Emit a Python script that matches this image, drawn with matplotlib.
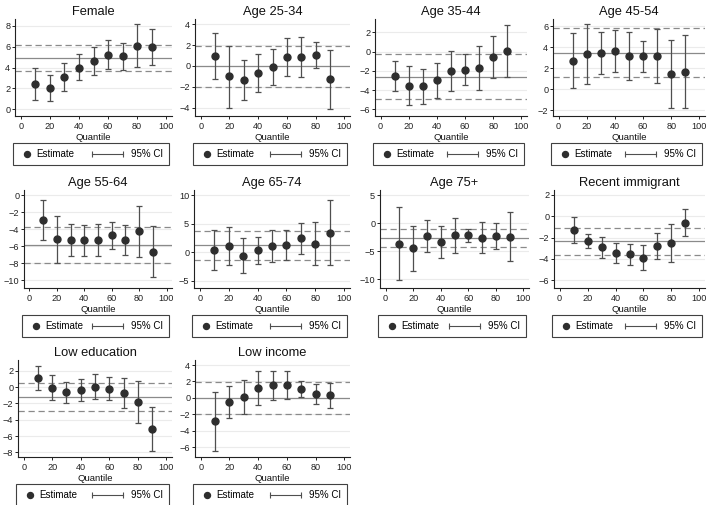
import matplotlib
matplotlib.use("Agg")
import matplotlib.pyplot as plt
from matplotlib.lines import Line2D
from matplotlib.legend_handler import HandlerBase

plt.rcParams['font.family'] = ['Liberation Sans', 'DejaVu Sans']

# ---------------- data ----------------
quantiles = [10, 20, 30, 40, 50, 60, 70, 80, 90]
xticks = [0, 20, 40, 60, 80, 100]

titles = ["Female", "Age 25-34", "Age 35-44", "Age 45-54",
          "Age 55-64", "Age 65-74", "Age 75+", "Recent immigrant",
          "Low education", "Low income"]

female_est = [2.4, 2.0, 3.05, 4.0, 4.65, 5.25, 5.1, 6.1, 5.95]
female_lo = [0.9, 0.8, 1.7, 2.8, 3.3, 3.85, 3.8, 4.05, 4.25]
female_hi = [3.95, 3.3, 4.4, 5.3, 6.0, 6.65, 6.4, 8.2, 7.7]

age2534_est = [0.95, -1.0, -1.35, -0.7, -0.1, 0.9, 0.85, 1.05, -1.3]
age2534_lo = [-1.25, -4.0, -3.3, -2.5, -1.8, -0.95, -1.05, -0.2, -4.1]
age2534_hi = [3.15, 1.95, 0.6, 1.1, 1.6, 2.7, 2.75, 2.3, 1.5]

age3544_est = [-2.55, -3.55, -3.6, -2.95, -2.0, -1.9, -1.7, -0.6, 0.1]
age3544_lo = [-4.1, -5.6, -5.45, -4.85, -4.1, -3.5, -4.05, -2.8, -2.6]
age3544_hi = [-1.0, -1.55, -1.8, -1.15, 0.05, -0.3, 0.6, 1.6, 2.8]

age4554_est = [2.7, 3.3, 3.45, 3.6, 3.15, 3.1, 3.1, 1.4, 1.65]
age4554_lo = [0.1, 0.45, 1.45, 1.6, 0.85, 1.6, 0.55, -1.85, -1.85]
age4554_hi = [5.35, 6.15, 5.45, 5.6, 5.4, 4.6, 5.7, 4.7, 5.1]

age5564_est = [-2.95, -5.2, -5.3, -5.35, -5.25, -4.75, -5.25, -4.25, -6.65]
age5564_lo = [-5.3, -7.95, -7.2, -7.2, -7.15, -6.35, -7.0, -7.25, -9.6]
age5564_hi = [-0.55, -2.5, -3.4, -3.5, -3.4, -3.15, -3.5, -1.25, -3.7]

age6574_est = [0.35, 1.1, -0.65, 0.35, 1.0, 1.2, 2.4, 1.5, 3.4]
age6574_lo = [-3.1, -2.2, -3.6, -2.0, -1.8, -1.4, -0.35, -2.2, -2.3]
age6574_hi = [3.8, 4.4, 2.4, 2.7, 3.8, 3.8, 5.15, 5.2, 9.1]

age75_est = [-3.7, -4.5, -2.3, -3.4, -2.2, -2.2, -2.6, -2.3, -2.4]
age75_lo = [-10.2, -8.5, -5.2, -6.2, -5.3, -3.3, -5.4, -4.6, -6.8]
age75_hi = [2.85, -0.6, 0.6, -0.6, 0.9, -1.1, 0.2, 0.1, 1.9]

immig_est = [-1.25, -2.3, -2.9, -3.45, -3.55, -3.9, -2.8, -2.55, -0.6]
immig_lo = [-2.5, -2.95, -3.9, -4.4, -4.55, -5.1, -4.05, -4.35, -1.85]
immig_hi = [-0.05, -1.65, -1.95, -2.55, -2.6, -2.7, -1.6, -0.75, 0.65]

lowedu_est = [1.1, -0.1, -0.65, -0.4, 0.05, -0.25, -0.75, -1.85, -5.15]
lowedu_lo = [-0.35, -1.65, -1.9, -1.75, -1.5, -1.65, -2.55, -4.4, -7.85]
lowedu_hi = [2.6, 1.5, 0.6, 0.95, 1.6, 1.2, 1.05, 0.7, -2.45]

lowinc_est = [-2.85, -0.5, 0.1, 1.2, 1.55, 1.55, 1.1, 0.45, 0.3]
lowinc_lo = [-6.45, -2.4, -2.0, -0.85, -0.2, -0.15, 0.15, -0.75, -1.25]
lowinc_hi = [0.75, 1.4, 2.2, 3.25, 3.3, 3.25, 2.1, 1.7, 1.85]

# OLS estimate and its 95% CI (horizontal reference lines)
ols_coef = [4.9, 0.0, -2.6, 3.45, -5.9, 1.2, -2.6, -2.35, -1.25, 0.0]
ols_lo = [3.65, -2.05, -4.9, 1.1, -8.0, -1.3, -4.2, -3.6, -2.95, -1.9]
ols_hi = [6.15, 1.9, -0.3, 5.85, -3.75, 3.7, -1.0, -1.15, 0.45, 1.9]

yticks = [[0, 2, 4, 6, 8], [-4, -2, 0, 2, 4], [-6, -4, -2, 0, 2],
          [-2, 0, 2, 4, 6], [-10, -8, -6, -4, -2, 0], [-5, 0, 5, 10],
          [-10, -5, 0, 5], [-6, -4, -2, 0, 2], [-8, -6, -4, -2, 0, 2],
          [-6, -4, -2, 0, 2, 4]]

ylims = [(-0.67, 8.67), (-4.8, 4.5), (-6.7, 3.38), (-2.57, 6.67),
         (-10.94, 0.59), (-6.28, 10.88), (-11.55, 5.89), (-6.75, 2.47),
         (-8.57, 3.31), (-7.18, 4.61)]

series = [(female_est, female_lo, female_hi),
          (age2534_est, age2534_lo, age2534_hi),
          (age3544_est, age3544_lo, age3544_hi),
          (age4554_est, age4554_lo, age4554_hi),
          (age5564_est, age5564_lo, age5564_hi),
          (age6574_est, age6574_lo, age6574_hi),
          (age75_est, age75_lo, age75_hi),
          (immig_est, immig_lo, immig_hi),
          (lowedu_est, lowedu_lo, lowedu_hi),
          (lowinc_est, lowinc_lo, lowinc_hi)]

# ---------------- layout (pixels) ----------------
W, H = 709, 505
lefts = [15, 195, 375, 553, 24, 194, 380, 554, 18, 195]
rights = [172, 350, 527, 705, 172, 350, 529, 705, 172, 350]
row_top = [19, 190, 360]
row_bot = [116, 288, 457]

MARK = "#2e2e2e"
BAR = "#4f4f4f"
REF = "#8a8a8a"


class DotHandler(HandlerBase):
    def create_artists(self, legend, orig_handle, xdescent, ydescent,
                       width, height, fontsize, trans):
        l = Line2D([-xdescent + width * 0.55], [-ydescent + height / 2],
                   marker='o', ls='none', color=MARK, markersize=4.3)
        l.set_transform(trans)
        return [l]


class CIHandler(HandlerBase):
    def create_artists(self, legend, orig_handle, xdescent, ydescent,
                       width, height, fontsize, trans):
        x1 = -xdescent + width - 3.5
        x0 = x1 - 22
        y = -ydescent + height / 2
        l = Line2D([x0, x1], [y, y], color=BAR, lw=0.8)
        c = Line2D([x0, x1], [y, y], ls='none', marker='|', color=BAR,
                   markersize=5, markeredgewidth=0.8)
        l.set_transform(trans)
        c.set_transform(trans)
        return [l, c]


fig = plt.figure(figsize=(W / 100, H / 100), dpi=100)
fig.patch.set_facecolor('white')

for i, title in enumerate(titles):
    r = i // 4
    l, rt = lefts[i], rights[i]
    t, b = row_top[r], row_bot[r]
    ax = fig.add_axes([l / W, 1 - b / H, (rt - l) / W, (b - t) / H])
    est, lo, hi = series[i]
    yerr = [[e - a for e, a in zip(est, lo)], [h - e for e, h in zip(est, hi)]]

    for yt in yticks[i]:
        ax.axhline(yt, color="#ebebeb", lw=0.8, zorder=0)
    ax.axhline(ols_coef[i], color=REF, lw=0.9, zorder=1)
    ax.axhline(ols_lo[i], color=REF, lw=0.9, ls=(0, (5, 3)), zorder=1)
    ax.axhline(ols_hi[i], color=REF, lw=0.9, ls=(0, (5, 3)), zorder=1)

    ax.errorbar(quantiles, est, yerr=yerr, fmt='none', ecolor=BAR,
                elinewidth=0.9, capsize=2.4, capthick=0.9, zorder=2)
    ax.plot(quantiles, est, 'o', color=MARK, markersize=5.0, zorder=3)

    ax.set_xlim(-4, 104)
    ax.set_ylim(*ylims[i])
    ax.set_xticks(xticks)
    ax.set_yticks(yticks[i])
    ax.tick_params(labelsize=6.6, length=2.2, width=0.7, pad=1.2,
                   colors="#222222")
    ax.tick_params(axis='x', pad=1.8)
    for s in ['top', 'right']:
        ax.spines[s].set_visible(False)
    for s in ['left', 'bottom']:
        ax.spines[s].set_color("#222222")
        ax.spines[s].set_linewidth(0.8)
    ax.set_title(title, fontsize=9.3, pad=3.0, color="#111111")
    ax.set_xlabel("Quantile", fontsize=6.8, labelpad=1.5, color="#111111")

    dot = Line2D([], [], marker='o', ls='none', color=MARK)
    ci = Line2D([], [], color=BAR)
    leg_top = b + 27
    leg = ax.legend([dot, ci], ["Estimate", "95% CI"], ncol=2,
                    loc='upper left', mode='expand',
                    bbox_to_anchor=((l - 2) / W, 1 - leg_top / H,
                                    (rt - l - 1) / W, 0),
                    bbox_transform=fig.transFigure,
                    handler_map={dot: DotHandler(), ci: CIHandler()},
                    fontsize=7.0, handlelength=1.4, handletextpad=0.35,
                    borderpad=0.62, borderaxespad=0, columnspacing=1,
                    fancybox=False, frameon=True)
    fr = leg.get_frame()
    fr.set_edgecolor("#111111")
    fr.set_linewidth(0.8)

fig.savefig("out.png", dpi=100, facecolor='white')
